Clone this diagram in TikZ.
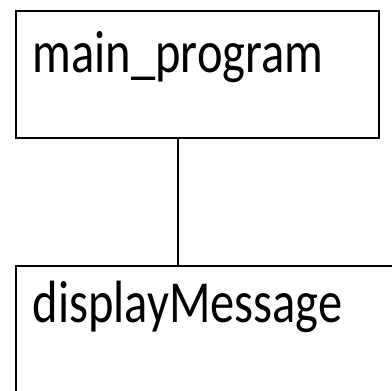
\documentclass[tikz,border=0pt]{standalone}
\usepackage{graphicx}
\usepackage{fontspec}
\setmainfont{Carlito}
\begin{document}
\begin{tikzpicture}[x=1pt,y=-1pt,
  box/.style={draw=black,line width=2.3pt,rectangle,inner sep=0pt,anchor=north west},
  lbl/.style={inner sep=0pt,anchor=base west,font=\fontsize{48.5}{58}\selectfont}]
\useasboundingbox (0,0) rectangle (392,391);
\clip (0,0) rectangle (392,391);
\node[box,minimum width=363pt,minimum height=127pt] (main) at (14.5,10) {};
\node[box,minimum width=420pt,minimum height=160pt] (disp) at (14.5,265) {};
\node[lbl] (mainlbl) at (32.5,72) {\scalebox{1}[1.23]{main\_program}};
\node[lbl] (displbl) at (32.5,322) {\scalebox{1}[1.23]{displayMessage}};
\coordinate (cx) at (177.7,0);
\draw[line width=2.3pt] (main.south -| cx) -- (disp.north -| cx);
\end{tikzpicture}
\end{document}
